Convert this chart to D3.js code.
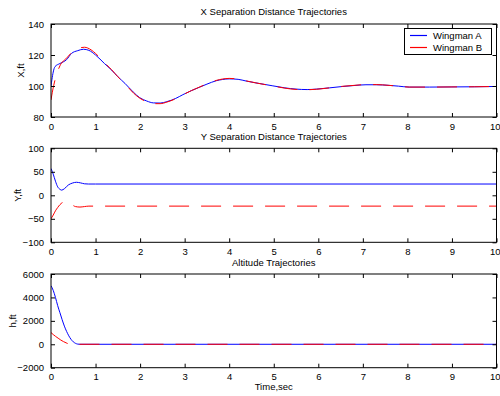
<!DOCTYPE html>
<html><head><meta charset="utf-8">
<script src="https://cdn.jsdelivr.net/npm/d3@7"></script>
<style>
html,body{margin:0;padding:0;background:#fff;}
svg text{font-family:"Liberation Sans",Arial,sans-serif;font-size:9.5px;fill:#000;}
</style></head>
<body>
<svg id="chart" width="500" height="396"></svg>
<script>
// ---------- data ----------
const timeTicks = [0,1,2,3,4,5,6,7,8,9,10];
const seriesNames = ["Wingman A","Wingman B"];

const xTimeA = [0,0.02,0.05,0.09,0.2,0.35,0.46,0.6,0.73,0.85,1.0,1.2,1.36,1.5,1.66,1.85,1.99,2.15,2.3,2.45,2.6,2.8,2.96,3.15,3.34,3.5,3.71,3.85,4.0,4.2,4.38,4.6,4.98,5.25,5.5,5.75,5.96,6.25,6.55,6.8,7.07,7.3,7.59,7.8,8.04,8.5,9.0,9.5,10];
const xValA  = [100,104,109,112.5,114.5,117,121,122.8,123.7,123,120,114.5,110.3,106,101.7,96,92.5,90.3,89.1,89,89.9,92,94.4,97,99.3,101.2,103.4,104.2,104.6,104.3,103.2,102,100.1,98.8,98,97.7,98,98.8,99.7,100.3,100.8,100.8,100.4,99.9,99.3,99.3,99.4,99.5,99.7];
const xTimeB = [0,0.03,0.09,0.2,0.35,0.52,0.65,0.75,0.9,1.0,1.2,1.36,1.5,1.66,1.85,2.0,2.15,2.3,2.45,2.6,2.8,2.96,3.15,3.34,3.5,3.71,3.85,4.0,4.2,4.38,4.6,4.98,5.25,5.5,5.75,5.96,6.25,6.55,6.8,7.07,7.3,7.59,7.8,8.04,8.5,9.0,9.5,10];
const xValB  = [91,96,103.9,113,118,123,124.6,125,123.3,121,115,110.5,106,101.5,95.5,92,89.8,88.6,88.6,89.6,91.8,94.3,97,99.4,101.4,103.6,104.5,104.9,104.5,103.3,102,100,98.6,97.8,97.6,97.9,98.8,99.8,100.4,100.9,100.9,100.4,99.9,99.3,99.3,99.4,99.5,99.7];

const yTimeA = [0,0.05,0.1,0.15,0.2,0.24,0.3,0.39,0.48,0.57,0.66,0.75,0.84,1,10];
const yValA  = [57,45,30,18,12.8,11,14,22,26,27.7,26.5,24.5,24,24,24];
const yTimeB = [0,0.05,0.1,0.15,0.2,0.27,0.35,0.45,0.55,0.65,0.75,0.85,1,10];
const yValB  = [-50,-42,-33,-26,-20,-15,-14,-19,-24,-25,-24,-23,-23,-23];

const hTimeA = [0,0.05,0.1,0.15,0.2,0.25,0.3,0.35,0.4,0.45,0.5,0.55,0.6,0.65,10];
const hValA  = [5000,4600,4000,3300,2700,2100,1550,1100,720,420,210,80,15,0,0];
const hTimeB = [0,0.05,0.1,0.16,0.22,0.28,0.34,0.4,0.45,10];
const hValB  = [1000,830,680,520,360,230,120,30,0,0];

const xTicksY = [80,100,120,140];
const yTicksY = [-100,-50,0,50,100];
const hTicksY = [-2000,0,2000,4000,6000];

const panelTitles = ["X Separation Distance Trajectories","Y Separation Distance Trajectories","Altitude Trajectories"];
const panelYLabels = ["X,ft","Y,ft","h,ft"];
const xAxisLabel = "Time,sec";

// ---------- drawing ----------
const svg = d3.select("#chart");
const left = 51, right = 496.5;
const colors = ["#0000ff","#ff0000"];
const dash = "20,12";

const panels = [
  {top:24, bottom:117, domain:[80,140], ticks:xTicksY, title:panelTitles[0], ylab:panelYLabels[0], labX:24, titleY:15,
   series:[[xTimeA,xValA],[xTimeB,xValB]]},
  {top:148.3, bottom:242.3, domain:[-100,100], ticks:yTicksY, title:panelTitles[1], ylab:panelYLabels[1], labX:21, titleY:140,
   series:[[yTimeA,yValA],[yTimeB,yValB]]},
  {top:274, bottom:367.7, domain:[-2000,6000], ticks:hTicksY, title:panelTitles[2], ylab:panelYLabels[2], labX:16, titleY:266,
   series:[[hTimeA,hValA],[hTimeB,hValB]]}
];

const x = d3.scaleLinear().domain([0,10]).range([left,right]);

panels.forEach((p,pi)=>{
  const y = d3.scaleLinear().domain(p.domain).range([p.bottom,p.top]);
  const g = svg.append("g");
  const cid = "clip"+pi;
  svg.append("clipPath").attr("id",cid).append("rect")
    .attr("x",left).attr("y",p.top).attr("width",right-left).attr("height",p.bottom-p.top);

  const line = d3.line().x(d=>x(d[0])).y(d=>y(d[1])).curve(d3.curveMonotoneX);
  p.series.forEach((s,si)=>{
    const pts = s[0].map((t,i)=>[t,s[1][i]]);
    g.append("path").attr("d",line(pts)).attr("fill","none")
      .attr("stroke",colors[si]).attr("stroke-width",1)
      .attr("stroke-dasharray", si===1 ? dash : null)
      .attr("clip-path","url(#"+cid+")");
  });

  // axes: ticks inward on all four sides
  const axB = d3.axisBottom(x).tickValues(timeTicks).tickSizeInner(-4).tickSizeOuter(0).tickPadding(6).tickFormat(d3.format("d"));
  const axT = d3.axisTop(x).tickValues(timeTicks).tickSizeInner(-4).tickSizeOuter(0).tickFormat("");
  const axL = d3.axisLeft(y).tickValues(p.ticks).tickSizeInner(-4).tickSizeOuter(0).tickPadding(7).tickFormat(d3.format("d"));
  const axR = d3.axisRight(y).tickValues(p.ticks).tickSizeInner(-4).tickSizeOuter(0).tickFormat("");
  [[axB,`translate(0,${p.bottom})`],[axT,`translate(0,${p.top})`],[axL,`translate(${left},0)`],[axR,`translate(${right},0)`]]
    .forEach(([ax,tr],ai)=>{
      const a = svg.append("g").attr("transform",tr).call(ax);
      a.select(".domain").remove();
      a.selectAll("line").attr("stroke","#000");
      a.selectAll("text").style("font-family","'Liberation Sans',Arial,sans-serif").style("font-size","9.5px").attr("fill","#000");
      if (ai===0) {
        // keep the last label inside the window
        a.selectAll(".tick").filter(d=>d===10).select("text").attr("text-anchor","end").attr("x",500-right);
      }
    });
  svg.append("rect").attr("x",left).attr("y",p.top).attr("width",right-left).attr("height",p.bottom-p.top)
    .attr("fill","none").attr("stroke","#000").attr("stroke-width",1);

  svg.append("text").attr("x",(left+right)/2).attr("y",p.titleY).attr("text-anchor","middle").text(p.title);
  svg.append("text").attr("transform",`translate(${p.labX},${(p.top+p.bottom)/2}) rotate(-90)`)
    .attr("text-anchor","middle").text(p.ylab);
});

svg.append("text").attr("x",(left+right)/2).attr("y",390).attr("text-anchor","middle").text(xAxisLabel);

// legend
const lg = svg.append("g");
lg.append("rect").attr("x",404.5).attr("y",28.5).attr("width",87).attr("height",26)
  .attr("fill","#fff").attr("stroke","#000").attr("stroke-width",1);
seriesNames.forEach((n,i)=>{
  const yy = 35.5 + i*12;
  lg.append("line").attr("x1",410).attr("x2",427).attr("y1",yy).attr("y2",yy)
    .attr("stroke",colors[i]).attr("stroke-width",1.2);
  lg.append("text").attr("x",433).attr("y",yy+3.3).text(n);
});
</script>
</body></html>
